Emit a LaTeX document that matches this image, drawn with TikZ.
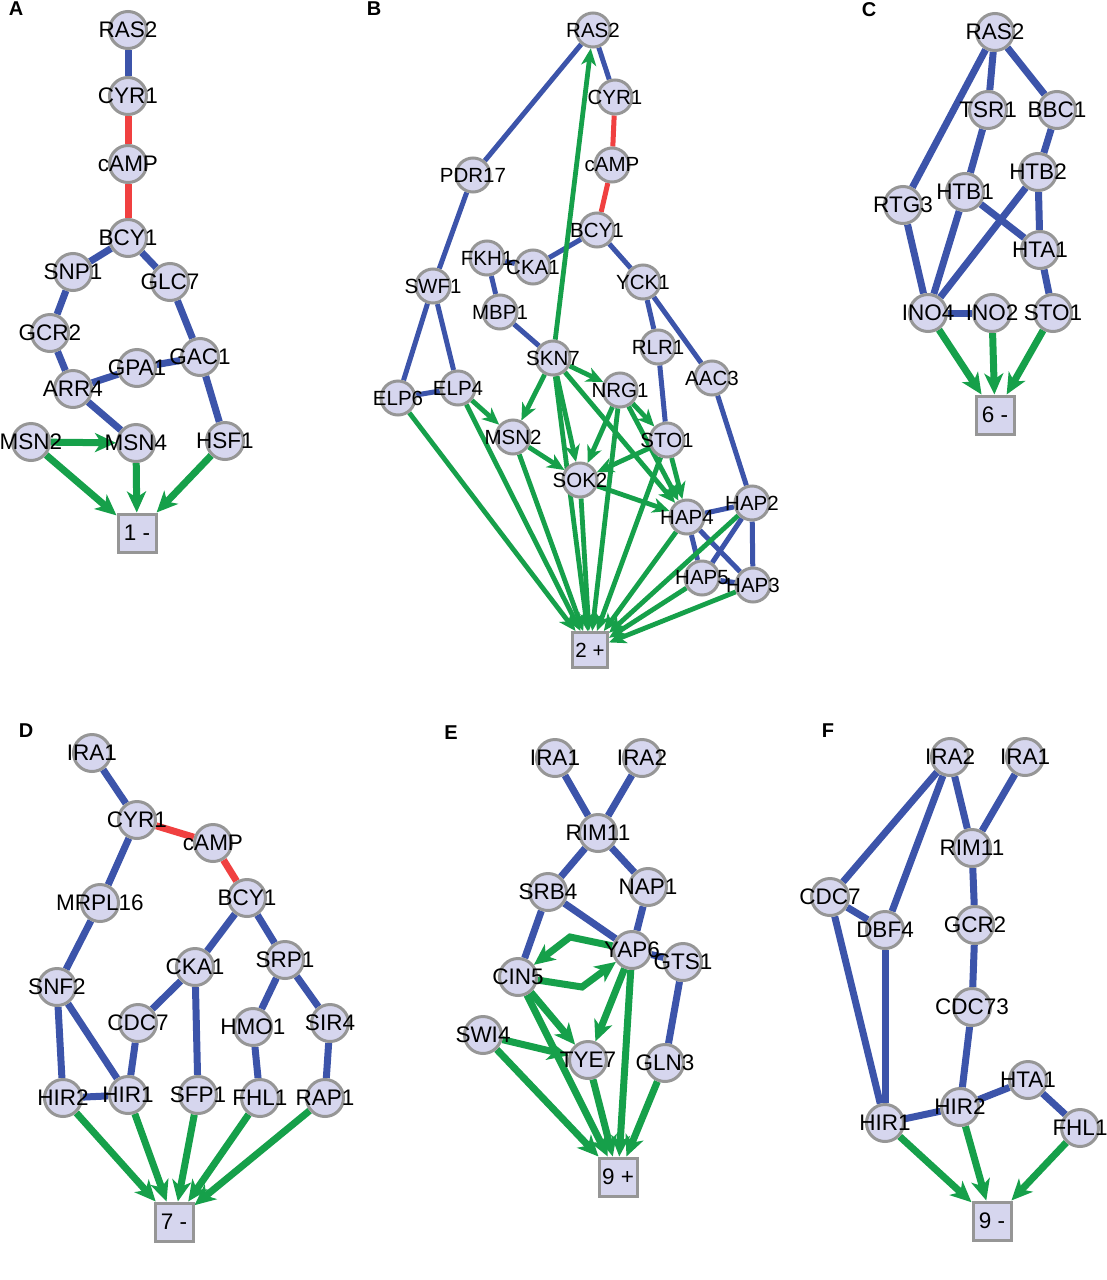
\documentclass[tikz,border=0pt]{standalone}
\usepackage{fontspec}
\setmainfont{Liberation Sans}
\usetikzlibrary{arrows.meta}
\definecolor{nodefill}{RGB}{214,214,238}
\definecolor{nodeborder}{RGB}{150,150,150}
\definecolor{eblue}{RGB}{60,84,170}
\definecolor{ered}{RGB}{240,64,64}
\definecolor{egreen}{RGB}{22,160,74}
\pgfdeclarelayer{bg}
\pgfdeclarelayer{edges}
\pgfdeclarelayer{top}
\pgfsetlayers{bg,edges,main,top}
\tikzset{
  gene/.style={circle, fill=nodefill, draw=nodeborder, line width=3pt, minimum size=37pt, inner sep=0pt},
  geneB/.style={gene, minimum size=34pt},
  gtext/.style={font=\fontsize{22.5}{22.5}\selectfont, inner sep=0pt},
  gtextB/.style={font=\fontsize{20.5}{20.5}\selectfont, inner sep=0pt},
  tbox/.style={rectangle, fill=nodefill, draw=nodeborder, line width=3pt, minimum size=38pt, inner sep=0pt, font=\fontsize{22.5}{22.5}\selectfont},
  plabel/.style={font=\fontsize{20}{20}\selectfont\bfseries, inner sep=0pt},
  bl/.style={draw=eblue, line width=7pt},
  rd/.style={draw=ered, line width=7pt},
  ga/.style={draw=egreen, line width=7pt, -{Stealth[length=21pt,width=19pt,inset=6pt]}},
  blB/.style={draw=eblue, line width=5pt},
  rdB/.style={draw=ered, line width=5pt},
  gaB/.style={draw=egreen, line width=4.8pt, -{Stealth[length=17pt,width=15pt,inset=5pt]}},
}
\newcommand\gnode[4]{\node[gene] (#1) at (#2,#3) {};\begin{pgfonlayer}{top}\node[gtext] (#1t) at (#1) {#4};\end{pgfonlayer}}
\newcommand\gnodeB[4]{\node[geneB] (#1) at (#2,#3) {};\begin{pgfonlayer}{top}\node[gtextB] (#1t) at (#1) {#4};\end{pgfonlayer}}
\begin{document}
\begin{tikzpicture}[x=1pt,y=-1pt]
\begin{pgfonlayer}{bg}
\fill[white] (0,0) rectangle (1107,1280);
\end{pgfonlayer}
\useasboundingbox (0,0) rectangle (1107,1280);
% ---------------- Panel A
\node[plabel] (labA) at (16,9) {A};
\gnode{Aras2}{128}{30}{RAS2}
\gnode{Acyr1}{128}{96}{CYR1}
\gnode{Acamp}{128}{164}{cAMP}
\gnode{Abcy1}{128}{238}{BCY1}
\gnode{Asnp1}{73}{272}{SNP1}
\gnode{Aglc7}{170}{282}{GLC7}
\gnode{Agcr2}{50}{333}{GCR2}
\gnode{Agpa1}{137}{368}{GPA1}
\gnode{Agac1}{200}{357}{GAC1}
\gnode{Aarr4}{73}{389}{ARR4}
\gnode{Amsn2}{31}{442}{MSN2}
\gnode{Amsn4}{136}{443}{MSN4}
\gnode{Ahsf1}{225}{441}{HSF1}
\node[tbox] (Abox) at (137,533) {1 -};
% ---------------- Panel B
\node[plabel] (labB) at (374,9) {B};
\gnodeB{Bras2}{593}{30}{RAS2}
\gnodeB{Bcyr1}{615}{97}{CYR1}
\gnodeB{Bcamp}{612}{165}{cAMP}
\gnodeB{Bbcy1}{597}{230}{BCY1}
\gnodeB{Bpdr17}{473}{175}{PDR17}
\gnodeB{Bfkh1}{487}{258}{FKH1}
\gnodeB{Bcka1}{533}{267}{CKA1}
\gnodeB{Bswf1}{433}{286}{SWF1}
\gnodeB{Bmbp1}{500}{312}{MBP1}
\gnodeB{Byck1}{643}{282}{YCK1}
\gnodeB{Bskn7}{553}{358}{SKN7}
\gnodeB{Bnrg1}{620}{390}{NRG1}
\gnodeB{Brlr1}{658}{347}{RLR1}
\gnodeB{Bmsn2}{513}{437}{MSN2}
\gnodeB{Bsto1}{667}{440}{STO1}
\gnodeB{Bsok2}{580}{480}{SOK2}
\gnodeB{Belp6}{398}{398}{ELP6}
\gnodeB{Belp4}{458}{388}{ELP4}
\gnodeB{Baac3}{712}{378}{AAC3}
\gnodeB{Bhap2}{752}{503}{HAP2}
\gnodeB{Bhap4}{687}{517}{HAP4}
\gnodeB{Bhap5}{702}{578}{HAP5}
\gnodeB{Bhap3}{753}{585}{HAP3}
\node[tbox, minimum size=35pt, font=\fontsize{20.5}{20.5}\selectfont] (Bbox) at (590,650) {2 +};
% ---------------- Panel C
\node[plabel] (labC) at (869,10) {C};
\gnode{Cras2}{995}{32}{RAS2}
\gnode{Ctsr1}{988}{110}{TSR1}
\gnode{Cbbc1}{1057}{110}{BBC1}
\gnode{Chtb2}{1038}{172}{HTB2}
\gnode{Chtb1}{965}{192}{HTB1}
\gnode{Crtg3}{903}{205}{RTG3}
\gnode{Chta1}{1040}{250}{HTA1}
\gnode{Cino4}{928}{313}{INO4}
\gnode{Cino2}{992}{313}{INO2}
\gnode{Csto1}{1053}{313}{STO1}
\node[tbox] (Cbox) at (995,415) {6 -};
% ---------------- Panel D
\node[plabel] (labD) at (26,731) {D};
\gnode{Dira1}{92}{753}{IRA1}
\gnode{Dcyr1}{137}{820}{CYR1}
\gnode{Dcamp}{213}{843}{cAMP}
\gnode{Dbcy1}{247}{898}{BCY1}
\gnode{Dmrpl}{100}{903}{MRPL16}
\gnode{Dcka1}{195}{967}{CKA1}
\gnode{Dsrp1}{285}{960}{SRP1}
\gnode{Dsnf2}{57}{987}{SNF2}
\gnode{Dcdc7}{138}{1023}{CDC7}
\gnode{Dhmo1}{253}{1027}{HMO1}
\gnode{Dsir4}{330}{1023}{SIR4}
\gnode{Dhir2}{63}{1098}{HIR2}
\gnode{Dhir1}{128}{1095}{HIR1}
\gnode{Dsfp1}{198}{1095}{SFP1}
\gnode{Dfhl1}{260}{1098}{FHL1}
\gnode{Drap1}{325}{1098}{RAP1}
\node[tbox] (Dbox) at (174,1222) {7 -};
% ---------------- Panel E
\node[plabel] (labE) at (451,733) {E};
\gnode{Eira1}{555}{758}{IRA1}
\gnode{Eira2}{642}{758}{IRA2}
\gnode{Erim11}{598}{833}{RIM11}
\gnode{Esrb4}{548}{892}{SRB4}
\gnode{Enap1}{648}{887}{NAP1}
\gnode{Eyap6}{632}{950}{YAP6}
\gnode{Ecin5}{518}{977}{CIN5}
\gnode{Egts1}{683}{962}{GTS1}
\gnode{Eswi4}{483}{1035}{SWI4}
\gnode{Etye7}{588}{1060}{TYE7}
\gnode{Egln3}{665}{1063}{GLN3}
\node[tbox] (Ebox) at (618,1177) {9 +};
\coordinate (Eb1) at (570,937);
\coordinate (Eb2) at (582,987);
% ---------------- Panel F
\node[plabel] (labF) at (828,731) {F};
\gnode{Fira2}{950}{757}{IRA2}
\gnode{Fira1}{1025}{757}{IRA1}
\gnode{Frim11}{972}{848}{RIM11}
\gnode{Fcdc7}{830}{897}{CDC7}
\gnode{Fdbf4}{885}{930}{DBF4}
\gnode{Fgcr2}{975}{925}{GCR2}
\gnode{Fcdc73}{972}{1007}{CDC73}
\gnode{Fhta1}{1028}{1080}{HTA1}
\gnode{Fhir2}{960}{1107}{HIR2}
\gnode{Fhir1}{885}{1123}{HIR1}
\gnode{Ffhl1}{1080}{1128}{FHL1}
\node[tbox] (Fbox) at (992,1221) {9 -};
% ---------------- Edges
\begin{pgfonlayer}{edges}
% A
\foreach \a/\b in {Aras2/Acyr1, Abcy1/Asnp1, Abcy1/Aglc7, Asnp1/Agcr2, Agcr2/Aarr4, Aarr4/Agpa1, Agpa1/Agac1, Aglc7/Agac1, Agac1/Ahsf1, Aarr4/Amsn4}
  \draw[bl] (\a) -- (\b);
\foreach \a/\b in {Acyr1/Acamp, Acamp/Abcy1}
  \draw[rd] (\a) -- (\b);
\foreach \a/\b in {Amsn2/Amsn4, Amsn2/Abox, Amsn4/Abox, Ahsf1/Abox}
  \draw[ga] (\a) -- (\b);
% B
\foreach \a/\b in {Bras2/Bcyr1, Bras2/Bpdr17, Bpdr17/Bswf1, Bswf1/Belp6, Bswf1/Belp4, Belp6/Belp4, Bbcy1/Bcka1, Bcka1/Bfkh1, Bfkh1/Bmbp1, Bmbp1/Bskn7, Bbcy1/Byck1, Byck1/Brlr1, Byck1/Baac3, Brlr1/Bsto1, Baac3/Bhap2, Bhap2/Bhap4, Bhap2/Bhap5, Bhap2/Bhap3, Bhap4/Bhap5, Bhap4/Bhap3, Bhap5/Bhap3}
  \draw[blB] (\a) -- (\b);
\foreach \a/\b in {Bcyr1/Bcamp, Bcamp/Bbcy1}
  \draw[rdB] (\a) -- (\b);
\foreach \a/\b in {Bskn7/Bras2, Bskn7/Bnrg1, Bskn7/Bmsn2, Bskn7/Bsok2, Bskn7/Bhap4, Bskn7/Bbox, Belp4/Bmsn2, Belp4/Bbox, Belp6/Bbox, Bmsn2/Bsok2, Bmsn2/Bbox, Bnrg1/Bsok2, Bnrg1/Bsto1, Bnrg1/Bhap4, Bnrg1/Bbox, Bsto1/Bsok2, Bsto1/Bhap4, Bsto1/Bbox, Bsok2/Bhap4, Bsok2/Bbox, Bhap4/Bbox, Bhap2/Bbox, Bhap5/Bbox, Bhap3/Bbox}
  \draw[gaB] (\a) -- (\b);
% C
\foreach \a/\b in {Cras2/Ctsr1, Cras2/Cbbc1, Cras2/Crtg3, Ctsr1/Chtb1, Cbbc1/Chtb2, Chtb2/Chta1, Chtb2/Cino4, Chtb1/Cino4, Chtb1/Chta1, Crtg3/Cino4, Chta1/Csto1, Cino4/Cino2}
  \draw[bl] (\a) -- (\b);
\foreach \a/\b in {Cino4/Cbox, Cino2/Cbox, Csto1/Cbox}
  \draw[ga] (\a) -- (\b);
% D
\foreach \a/\b in {Dira1/Dcyr1, Dcyr1/Dmrpl, Dmrpl/Dsnf2, Dsnf2/Dhir2, Dsnf2/Dhir1, Dhir2/Dhir1, Dcdc7/Dhir1, Dcka1/Dcdc7, Dcka1/Dsfp1, Dbcy1/Dcka1, Dbcy1/Dsrp1, Dsrp1/Dhmo1, Dsrp1/Dsir4, Dhmo1/Dfhl1, Dsir4/Drap1}
  \draw[bl] (\a) -- (\b);
\foreach \a/\b in {Dcyr1/Dcamp, Dcamp/Dbcy1}
  \draw[rd] (\a) -- (\b);
\foreach \a/\b in {Dhir2/Dbox, Dhir1/Dbox, Dsfp1/Dbox, Dfhl1/Dbox, Drap1/Dbox}
  \draw[ga] (\a) -- (\b);
% E
\foreach \a/\b in {Eira1/Erim11, Eira2/Erim11, Erim11/Esrb4, Erim11/Enap1, Esrb4/Ecin5, Esrb4/Eyap6, Enap1/Eyap6, Eyap6/Egts1, Egts1/Egln3}
  \draw[bl] (\a) -- (\b);
\draw[ga] (Eyap6) -- (Eb1) -- (Ecin5);
\draw[ga] (Ecin5) -- (Eb2) -- (Eyap6);
\foreach \a/\b in {Ecin5/Etye7, Ecin5/Ebox, Eswi4/Etye7, Eswi4/Ebox, Eyap6/Etye7, Eyap6/Ebox, Etye7/Ebox, Egln3/Ebox}
  \draw[ga] (\a) -- (\b);
% F
\foreach \a/\b in {Fira2/Fcdc7, Fira2/Fdbf4, Fira2/Frim11, Fira1/Frim11, Fcdc7/Fdbf4, Fcdc7/Fhir1, Fdbf4/Fhir1, Frim11/Fgcr2, Fgcr2/Fcdc73, Fcdc73/Fhir2, Fhir1/Fhir2, Fhir2/Fhta1, Fhta1/Ffhl1}
  \draw[bl] (\a) -- (\b);
\foreach \a/\b in {Fhir1/Fbox, Fhir2/Fbox, Ffhl1/Fbox}
  \draw[ga] (\a) -- (\b);
\end{pgfonlayer}
\end{tikzpicture}
\end{document}
